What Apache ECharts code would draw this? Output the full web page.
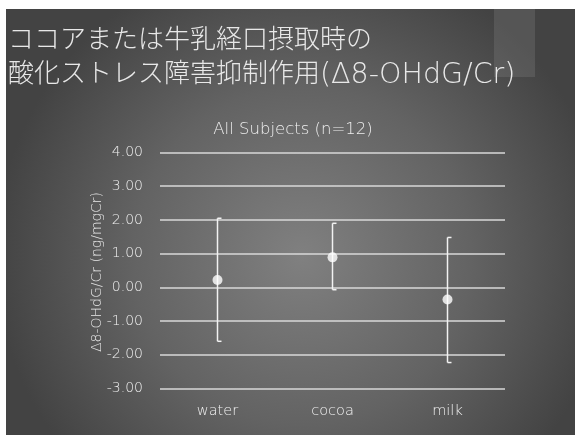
<!DOCTYPE html>
<html><head><meta charset="utf-8">
<style>html,body{margin:0;padding:0;background:#fff}#c{width:575px;height:435px}</style>
<script src="https://cdn.jsdelivr.net/npm/echarts@6/dist/echarts.min.js"></script>
</head><body><div id="c"></div>
<script>
var categories = ['water', 'cocoa', 'milk'];
var means = [0.22, 0.89, -0.36];
var upperErr = [2.05, 1.90, 1.48];
var lowerErr = [-1.60, -0.07, -2.23];
var yTicks = [-3, 4, 1];
var yAxisName = 'Δ8-OHdG/Cr (ng/mgCr)';

var chart = echarts.init(document.getElementById('c'), null, {renderer: 'canvas'});
var FONT = '"DejaVu Sans", sans-serif';
var JFONT = '"DejaVu Sans", "Noto Sans CJK JP", sans-serif';

var errData = categories.map(function (c, i) { return [i, lowerErr[i], upperErr[i]]; });

chart.setOption({
  backgroundColor: '#ffffff',
  animation: false,
  graphic: [
    {type: 'rect', z: -100, shape: {x: 6, y: 9, width: 569, height: 426},
     style: {fill: {type: 'radial', x: 0.52, y: 0.58, r: 0.72,
       colorStops: [{offset: 0, color: '#808080'}, {offset: 0.55, color: '#636363'}, {offset: 1, color: '#434343'}]}}},
    {type: 'rect', z: -99, shape: {x: 494, y: 9, width: 41, height: 68},
     style: {fill: 'rgba(130,130,130,0.3)'}},
    {type: 'text', z: 10, left: 8, top: 28,
     style: {text: 'ココアまたは牛乳経口摂取時の', fill: '#e8e8e8', font: '200 26px ' + JFONT}},
    {type: 'text', z: 10, left: 8, top: 61,
     style: {text: '{j|酸化ストレス障害抑制作用}{l|(Δ8-OHdG/Cr)}', fill: '#e8e8e8',
       rich: {
         j: {fontFamily: JFONT, fontSize: 26, fontWeight: 200, fill: '#e8e8e8'},
         l: {fontFamily: JFONT, fontSize: 28.5, fontWeight: 200, fill: '#e8e8e8'}
       }}},
    {type: 'text', z: 10, x: 97, y: 272, rotation: Math.PI / 2,
     style: {text: yAxisName, fill: '#e8e8e8', font: '200 14px ' + FONT,
       align: 'center', verticalAlign: 'middle'}}
  ],
  title: {
    text: 'All Subjects (n=12)', left: 288, top: 116, textAlign: 'center',
    textStyle: {color: '#eeeeee', fontSize: 16.5, fontWeight: 200, fontFamily: FONT}
  },
  grid: {left: 160, right: 70, top: 152.5, bottom: 46.5, containLabel: false},
  xAxis: {
    type: 'category', data: categories,
    axisLine: {show: false}, axisTick: {show: false},
    axisLabel: {color: '#f0f0f0', fontSize: 14.5, fontWeight: 200, fontFamily: FONT, margin: 15}
  },
  yAxis: {
    type: 'value', min: yTicks[0], max: yTicks[1], interval: yTicks[2],
    axisLine: {show: false}, axisTick: {show: false},
    axisLabel: {color: '#f0f0f0', fontSize: 14, fontWeight: 200, fontFamily: FONT, margin: 17,
      formatter: function (v) { return v.toFixed(2); }},
    splitLine: {lineStyle: {color: '#d8d8d8', width: 1.6}}
  },
  series: [
    {
      type: 'custom', z: 3,
      renderItem: function (params, api) {
        var x = api.value(0);
        var lo = api.coord([x, api.value(1)]);
        var hi = api.coord([x, api.value(2)]);
        var st = {stroke: '#f2f2f2', lineWidth: 1.5, fill: 'none'};
        return {type: 'group', children: [
          {type: 'line', shape: {x1: hi[0], y1: hi[1], x2: lo[0], y2: lo[1]}, style: st},
          {type: 'line', shape: {x1: hi[0], y1: hi[1], x2: hi[0] + 4, y2: hi[1]}, style: st},
          {type: 'line', shape: {x1: lo[0], y1: lo[1], x2: lo[0] + 4, y2: lo[1]}, style: st}
        ]};
      },
      data: errData
    },
    {
      type: 'scatter', z: 4, data: means, symbol: 'circle', symbolSize: 10,
      itemStyle: {color: '#ffffff'}
    }
  ]
});
</script></body></html>
